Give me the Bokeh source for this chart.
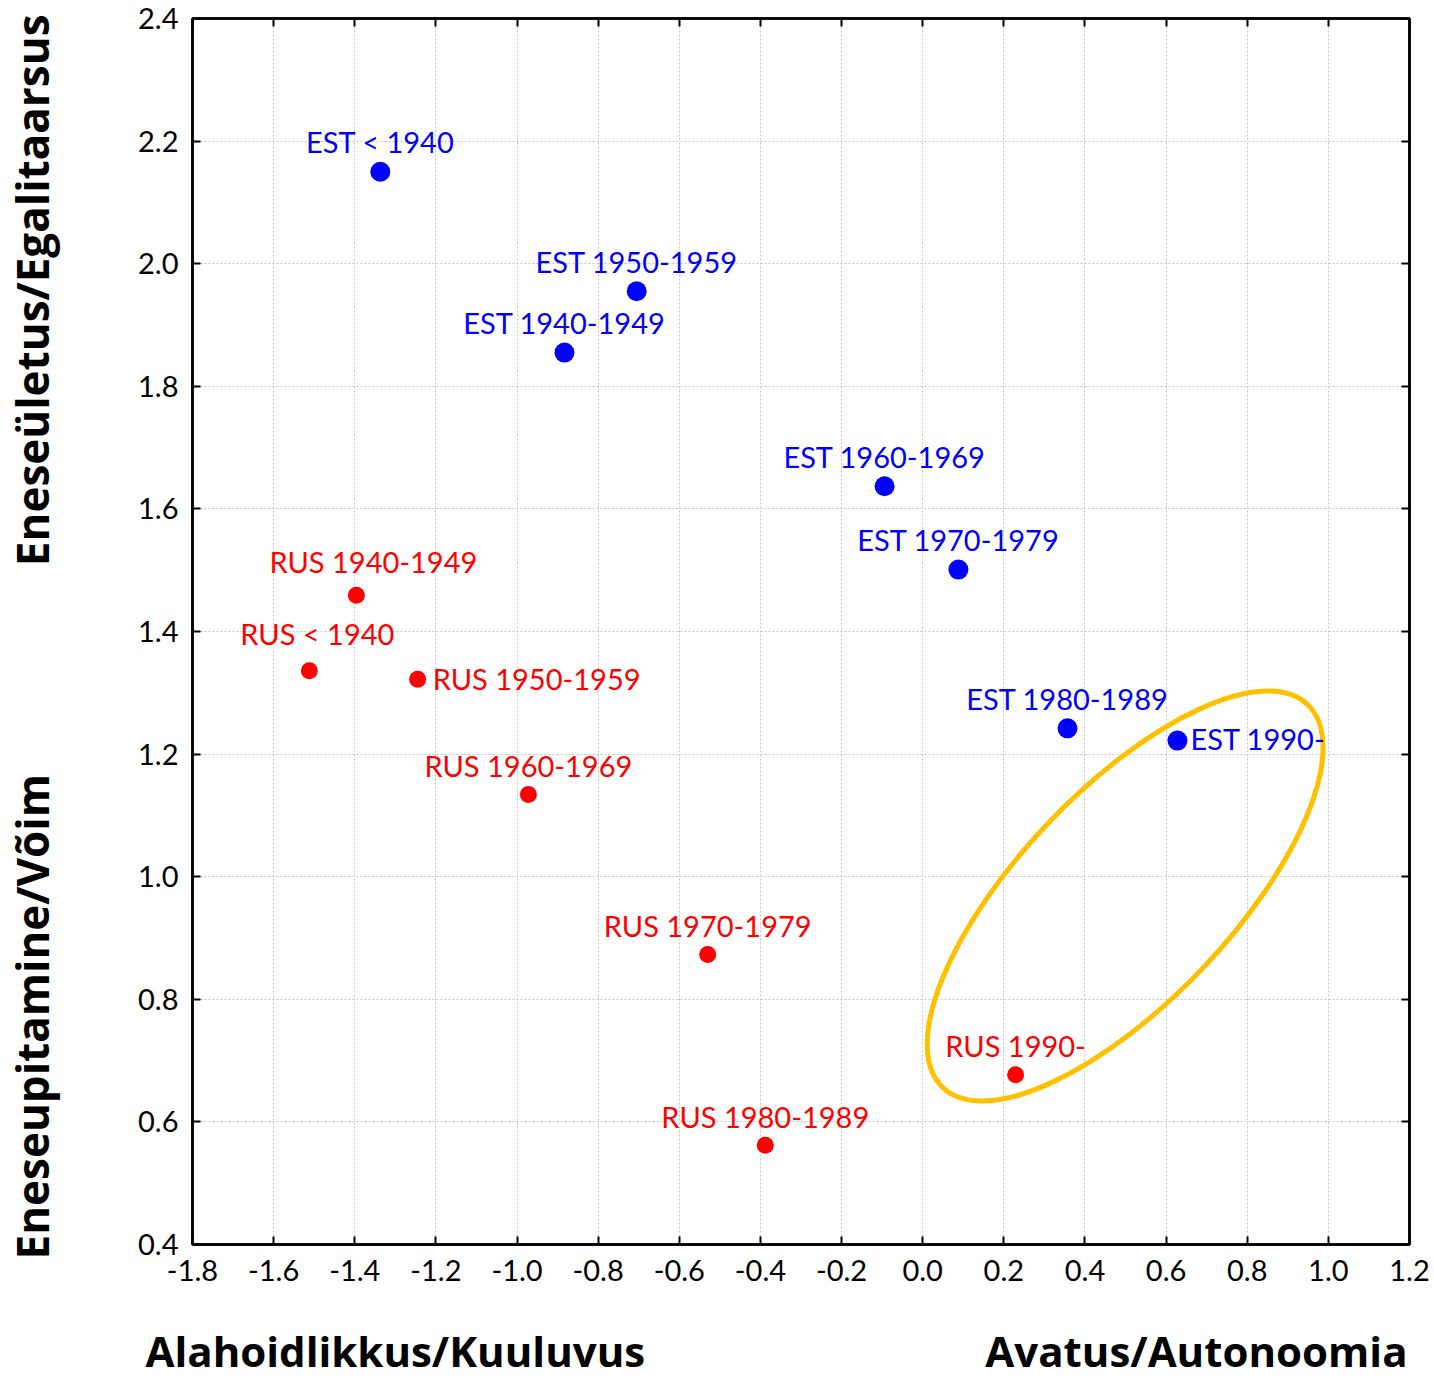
import math
from bokeh.plotting import figure
from bokeh.layouts import column, row
from bokeh.models import Range1d, FixedTicker, NumeralTickFormatter, LinearAxis, CustomLabelingPolicy
from bokeh.core.properties import value
from bokeh.embed import file_html
from bokeh.resources import INLINE

# ---------------- data ----------------
est_labels = ["EST < 1940", "EST 1940-1949", "EST 1950-1959", "EST 1960-1969",
              "EST 1970-1979", "EST 1980-1989", "EST 1990-"]
est_x = [-1.337, -0.883, -0.705, -0.094, 0.088, 0.357, 0.628]
est_y = [2.150, 1.855, 1.955, 1.637, 1.501, 1.242, 1.222]

rus_labels = ["RUS < 1940", "RUS 1940-1949", "RUS 1950-1959", "RUS 1960-1969",
              "RUS 1970-1979", "RUS 1980-1989", "RUS 1990-"]
rus_x = [-1.512, -1.396, -1.245, -0.972, -0.530, -0.388, 0.229]
rus_y = [1.336, 1.459, 1.322, 1.134, 0.873, 0.562, 0.677]

x_ticks = [-1.8, -1.6, -1.4, -1.2, -1.0, -0.8, -0.6, -0.4, -0.2, 0.0, 0.2, 0.4, 0.6, 0.8, 1.0, 1.2]
y_ticks = [0.4, 0.6, 0.8, 1.0, 1.2, 1.4, 1.6, 1.8, 2.0, 2.2, 2.4]

x_title_left = "Alahoidlikkus/Kuuluvus"
x_title_right = "Avatus/Autonoomia"
y_title_top = "Eneseületus/Egalitaarsus"
y_title_bottom = "Eneseupitamine/Võim"

# highlighted group (ellipse): centre in data units
ellipse_center = (0.499, 0.9685)

# ---------------- layout / style ----------------
TOTAL_W, TOTAL_H = 1434, 1381
FRAME_L, FRAME_T, FRAME_W, FRAME_H = 192, 18, 1217, 1226
YFIG_W = 70
MAIN_H = 1310
XFIG_H = TOTAL_H - MAIN_H
RIGHT_B = TOTAL_W - FRAME_L - FRAME_W

# label placement: (dx, dy, align) in screen pixels relative to the point
est_place = [(0, -30, "center"), (0, -30, "center"), (0, -30, "center"), (0, -30, "center"),
             (0, -30, "center"), (0, -30, "center"), (13, -2, "left")]
rus_place = [(8, -37, "center"), (17, -34, "center"), (15, -1, "left"), (0, -29, "center"),
             (0, -29, "center"), (0, -29, "center"), (0, -29, "center")]

FONT = "Lato"
TITLE_FONT = "Open Sans"
BLUE = "#0000FF"
RED = "#FF0000"
ELL_COLOR = "#FFC000"
ell_w_px, ell_h_px, ell_angle_deg = 529, 212, 46.4

x0, x1 = x_ticks[0], x_ticks[-1]
y0, y1 = y_ticks[0], y_ticks[-1]
ppx = FRAME_W / (x1 - x0)
ppy = FRAME_H / (y1 - y0)


def no_align(fig):
    if "frame_align" in fig.properties():
        fig.frame_align = False


p = figure(width=TOTAL_W - YFIG_W, height=MAIN_H, output_backend="svg", toolbar_location=None,
           x_range=Range1d(x0, x1), y_range=Range1d(y0, y1),
           min_border_left=FRAME_L - YFIG_W, min_border_top=FRAME_T,
           min_border_right=RIGHT_B, min_border_bottom=MAIN_H - FRAME_T - FRAME_H)
no_align(p)
p.background_fill_color = "white"
p.border_fill_color = "white"
p.outline_line_color = "black"
p.outline_line_width = 2.5

xt = FixedTicker(ticks=x_ticks)
yt = FixedTicker(ticks=y_ticks)
for ax in p.xaxis:
    ax.ticker = xt
for ax in p.yaxis:
    ax.ticker = yt
p.xgrid.ticker = xt
p.ygrid.ticker = yt

fmt = NumeralTickFormatter(format="0.0")
for ax in list(p.xaxis) + list(p.yaxis):
    ax.formatter = fmt
    ax.axis_line_color = "black"
    ax.axis_line_width = 2.5
    ax.major_tick_in = 8
    ax.major_tick_out = 0
    ax.major_tick_line_width = 2
    ax.major_tick_line_color = "black"
    ax.minor_tick_line_color = None
    ax.major_label_text_font = FONT
    ax.major_label_text_font_size = "29px"
    ax.major_label_text_color = "black"
p.xaxis.major_label_standoff = 15
p.yaxis.major_label_standoff = 14

# mirrored ticks (no labels) on top and right
hide_labels = CustomLabelingPolicy(code="for (const i of indices) indices.unset(i); return indices")
top = LinearAxis(ticker=xt, formatter=fmt)
right = LinearAxis(ticker=yt, formatter=fmt)
for ax in (top, right):
    ax.axis_line_color = "black"
    ax.axis_line_width = 2.5
    ax.major_tick_in = 8
    ax.major_tick_out = 0
    ax.major_tick_line_width = 2
    ax.minor_tick_line_color = None
    ax.major_label_policy = hide_labels
    ax.major_label_text_font_size = "1px"
    ax.major_label_standoff = 0
p.add_layout(top, "above")
p.add_layout(right, "right")

for g in (p.xgrid, p.ygrid):
    g.grid_line_color = "#c4c4c4"
    g.grid_line_dash = "2 2"
    g.grid_line_width = 1

# ellipse highlighting the 1990- cohorts
p.ellipse(x=[ellipse_center[0]], y=[ellipse_center[1]], width=ell_w_px, height=ell_h_px,
          width_units="screen", height_units="screen",
          angle=math.radians(ell_angle_deg), fill_color=None,
          line_color=ELL_COLOR, line_width=5)

# points
p.scatter(est_x, est_y, size=20, color=BLUE, line_color=None)
p.scatter(rus_x, rus_y, size=17, color=RED, line_color=None)


def add_labels(xs, ys, labels, place, color):
    for align in ("center", "left"):
        idx = [i for i, pl in enumerate(place) if pl[2] == align]
        if not idx:
            continue
        p.text(x=[xs[i] for i in idx], y=[ys[i] for i in idx], text=[labels[i] for i in idx],
               x_offset=[place[i][0] for i in idx], y_offset=[place[i][1] for i in idx],
               text_align=align, text_baseline="alphabetic", text_color=color,
               text_font=value(FONT), text_font_size="29px")


add_labels(est_x, est_y, est_labels, est_place, BLUE)
add_labels(rus_x, rus_y, rus_labels, rus_place, RED)

# ---------------- axis titles (separate strips so they are not clipped) ----------------
title_kw = dict(text_font=value(TITLE_FONT), text_font_style="bold",
                text_color="black", text_baseline="middle")

# left strip: vertical titles, y range aligned with main plot
yfig = figure(width=YFIG_W, height=MAIN_H, output_backend="svg", toolbar_location=None,
              x_axis_type=None, y_axis_type=None,
              x_range=Range1d(0, YFIG_W),
              y_range=Range1d(y1 - (MAIN_H - FRAME_T) / ppy, y1 + FRAME_T / ppy),
              min_border=0)
no_align(yfig)
yfig.outline_line_color = None
yfig.grid.visible = False
yfig.text(x=[31], y=[y1 + 4 / ppy], text=[y_title_top], angle=math.pi / 2,
          text_align="right", text_font_size="44px", **title_kw)
yfig.text(x=[31], y=[y0 - 15 / ppy], text=[y_title_bottom], angle=math.pi / 2,
          text_align="left", text_font_size="44px", **title_kw)

# bottom strip: horizontal titles, x range aligned with main plot
xfig = figure(width=TOTAL_W, height=XFIG_H, output_backend="svg", toolbar_location=None,
              x_axis_type=None, y_axis_type=None,
              x_range=Range1d(x0 - FRAME_L / ppx, x1 + RIGHT_B / ppx),
              y_range=Range1d(0, XFIG_H), min_border=0)
no_align(xfig)
xfig.outline_line_color = None
xfig.grid.visible = False
xfig.text(x=[x0 - 47 / ppx], y=[31], text=[x_title_left], text_align="left",
          text_font_size="42px", **title_kw)
xfig.text(x=[x1 - 2 / ppx], y=[31], text=[x_title_right], text_align="right",
          text_font_size="42px", **title_kw)

layout = column(row(yfig, p, spacing=0), xfig, spacing=0)
open("out.html", "w").write(file_html(layout, INLINE))
